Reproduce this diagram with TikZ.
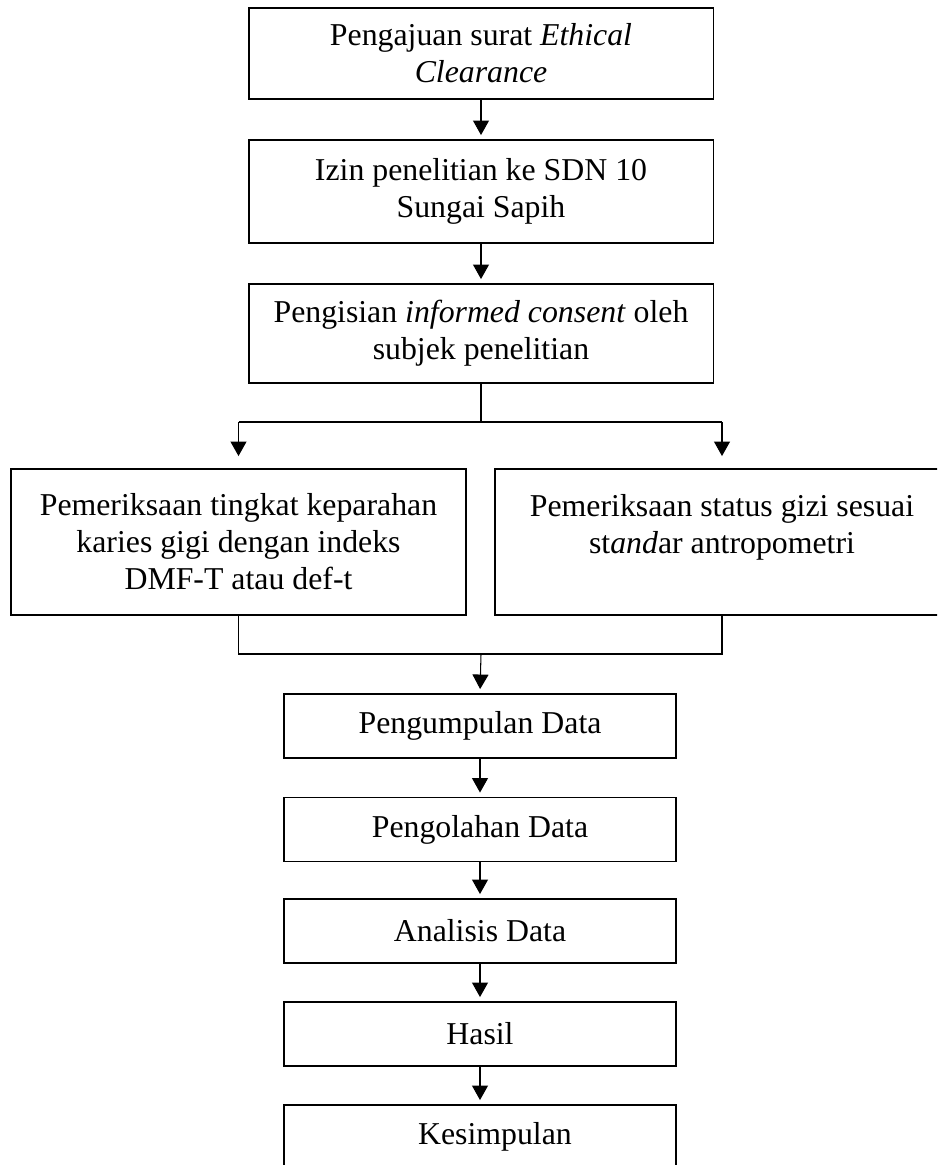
\documentclass[tikz,border=0pt]{standalone}
\usepackage{fontspec}
\setmainfont{Liberation Serif}
\usetikzlibrary{arrows.meta, positioning, calc}

\tikzset{
  box/.style={draw, line width=1.1pt, align=center, inner sep=0pt},
  bigbox/.style={box, minimum width=9.3cm},
  sidebox/.style={box, minimum width=9.1cm, minimum height=2.92cm},
  smallbox/.style={box, minimum width=7.84cm, minimum height=1.28cm},
  arr/.style={-{Triangle[width=0.32cm,length=0.29cm]}, line width=0.6pt, shorten >=0.08cm},
  link/.style={line width=0.6pt},
}

\begin{document}
\begin{tikzpicture}[x=0.02cm, y=-0.02cm, font=\fontsize{18.1pt}{21pt}\selectfont]
\clip (0,0) rectangle (937,1165);
% Top boxes
\node[bigbox, minimum height=1.82cm] (ethic) at (481,53.5) {Pengajuan surat \textit{Ethical}\\\textit{Clearance}};
\node[bigbox, minimum height=2.06cm] (izin) at (481,191.5) {Izin penelitian ke SDN 10\\Sungai Sapih};
\node[bigbox, minimum height=1.98cm] (consent) at (481,333.5) {Pengisian \textit{informed consent} oleh\\subjek penelitian};
% Two examinations
\node[sidebox] (karies) at (238.5,542) {Pemeriksaan tingkat keparahan\\karies gigi dengan indeks\\DMF-T atau def-t};
\node[sidebox] (gizi) at (722,542) {Pemeriksaan status gizi sesuai\\st\textit{and}ar antropometri\\\mbox{}};
% Data steps
\node[smallbox] (kumpul) at (480,726) {Pengumpulan Data};
\node[smallbox] (olah) at (480,829.5) {Pengolahan Data};
\node[smallbox] (analisis) at (480,931) {Analisis Data};
\node[smallbox] (hasil) at (480,1034) {Hasil};
\node[smallbox] (simpul) at (480,1137) {\hspace*{0.6cm}Kesimpulan};
% Arrows
\foreach \a/\b in {ethic/izin, izin/consent, kumpul/olah, olah/analisis, analisis/hasil, hasil/simpul}
  \draw[arr] (\a) -- (\b);
% Split
\coordinate (split) at (481,422);
\draw[link] (consent.south) -- (split);
\draw[link] (karies.north |- split) -- (gizi.north |- split);
\draw[arr, shorten >=0.24cm] (karies.north |- split) -- (karies.north);
\draw[arr, shorten >=0.24cm] (gizi.north |- split) -- (gizi.north);
% Join
\coordinate (join) at (481,654);
\draw[link] (karies.south) |- (join) -| (gizi.south);
\draw[arr] (join) -- (kumpul.north);
\end{tikzpicture}
\end{document}
